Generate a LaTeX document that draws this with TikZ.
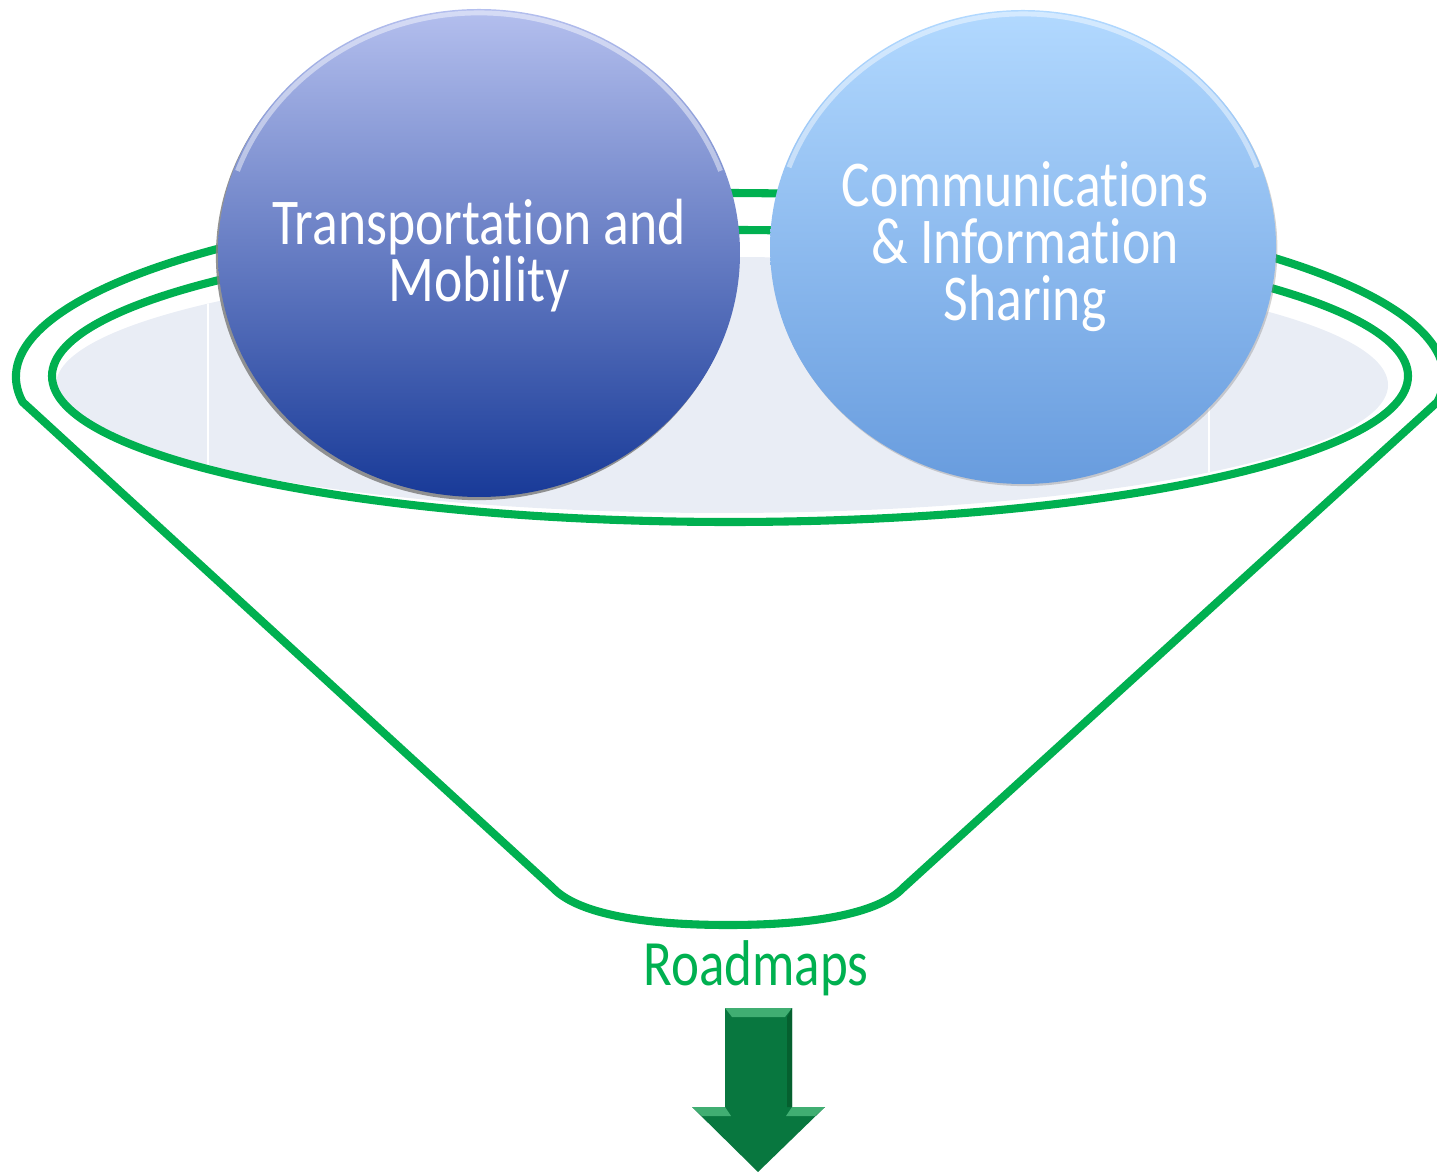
\documentclass[tikz,border=0pt]{standalone}
\usepackage{fontspec}
\setmainfont{Carlito}[FakeStretch=0.82, Ligatures=NoCommon]
\usepackage{tikz}
\usetikzlibrary{shapes.geometric,shadows}

\definecolor{funnelgreen}{HTML}{00B050}
\definecolor{bowlfill}{HTML}{E9EDF5}
\definecolor{arrowgreen}{HTML}{08773F}
\definecolor{arrowlight}{HTML}{40AE72}
\definecolor{arrowdark}{HTML}{05602F}

\tikzset{
  rim/.style={draw=funnelgreen, line width=2.3pt, line join=round},
  ball/.style={shape=ellipse, inner sep=0pt},
  gloss/.style={draw=white, opacity=0.45, line width=1.4pt},
  balltext/.style={text=white, align=center, font=\fontsize{18.6}{16.2}\selectfont}
}

\begin{document}
\begin{tikzpicture}[x=0.1mm, y=-0.1mm]
                        \useasboundingbox (0,0) rectangle (1437,1172);

                        % bowl
                        \fill[bowlfill] (722,385) ellipse [x radius=666, y radius=128];
                        \begin{scope}
                        \clip (722,385) ellipse [x radius=666, y radius=128];
                        \draw[white, line width=0.6pt] (208,240) -- (208,530)
                        (1209,240) -- (1209,530);
                        \end{scope}

                        % funnel
                        \draw[rim] (22.6,402) arc [start angle=172.2, end angle=367.8, x radius=714, y radius=184]
                        -- (903,888) .. controls (880,912) and (820,925) .. (728,925)
                        .. controls (636,925) and (576,912) .. (553,888) -- cycle;
                        \draw[rim] (730,376) ellipse [x radius=678, y radius=146];

                        % balls
                        \node[ball, top color={rgb,255:red,180;green,191;blue,238}, middle color={rgb,255:red,132;green,142;blue,202},
                        bottom color={rgb,255:red,24;green,58;blue,152}, drop shadow={opacity=0.85, shadow xshift=-0.6pt, shadow yshift=-0.9pt}]
                        (1) at (479,253) [minimum width=52.2mm, minimum height=48.8mm] {};
                        \node[ball, top color={rgb,255:red,178;green,217;blue,255}, middle color={rgb,255:red,146;green,192;blue,246},
                        bottom color={rgb,255:red,104;green,156;blue,222}, drop shadow={opacity=0.35, shadow xshift=0.4pt, shadow yshift=-0.6pt}]
                        (2) at (1023,247) [minimum width=50.6mm, minimum height=47.4mm] {};
                        \draw[gloss] (237.5,170.9) arc [start angle=200, end angle=340, x radius=257, y radius=240];
                        \draw[gloss] (789,167.3) arc [start angle=200, end angle=340, x radius=249, y radius=233];
                        \node[balltext] (1t) at (479,256) {Transportation and\\Mobility};
                        \node[balltext] (2t) at (1025,247) {Communications\\\& Information\\Sharing};

                        % output
                        \node[text=funnelgreen, anchor=base] (3) at (756,985) [font=\fontsize{18.4}{20}\selectfont] {Roadmaps};
                        \fill[arrowgreen] (725,1008) -- (792,1008) -- (792,1107) -- (825,1107) -- (758,1172)
                        -- (692,1107) -- (725,1107) -- cycle;
                        \fill[arrowlight] (725,1008) -- (792,1008) -- (785,1017) -- (732,1017) -- cycle;
                        \fill[arrowlight] (692,1107) -- (725,1107) -- (731,1116) -- (702,1116) -- cycle;
                        \fill[arrowlight] (792,1107) -- (825,1107) -- (815,1116) -- (786,1116) -- cycle;
                        \fill[arrowdark] (787,1017) -- (792,1008) -- (792,1107) -- (787,1107) -- cycle;
                    \end{tikzpicture}
\end{document}
